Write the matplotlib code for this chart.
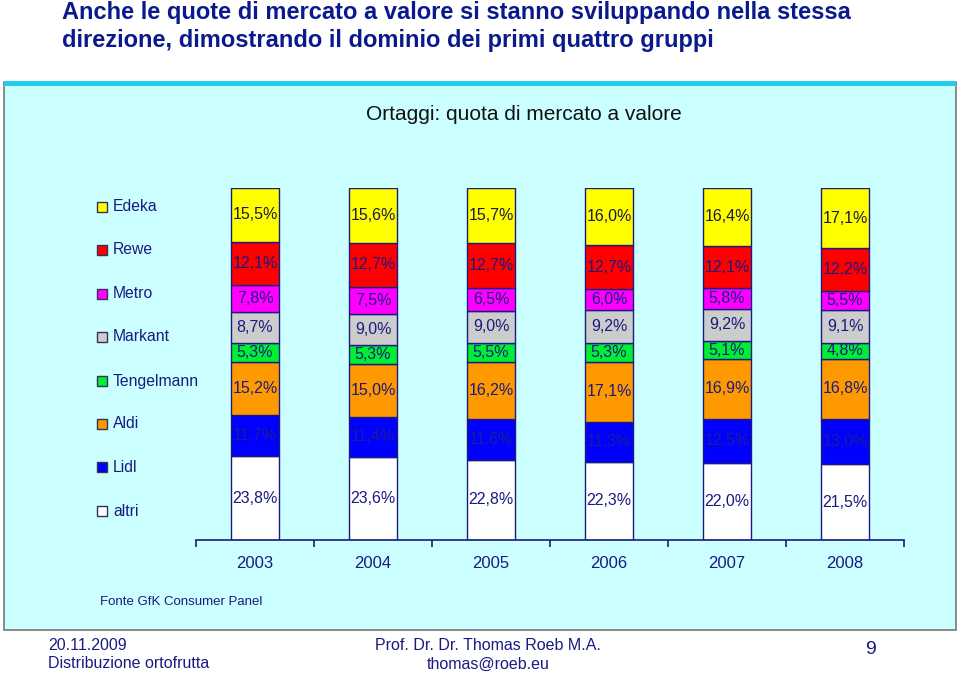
import numpy as np
import matplotlib.pyplot as plt
from matplotlib.patches import Rectangle

plt.rcParams['font.family'] = ['Liberation Sans', 'DejaVu Sans']

# market share by value (%), bottom to top of each bar
years = ['2003', '2004', '2005', '2006', '2007', '2008']
groups = ['altri', 'Lidl', 'Aldi', 'Tengelmann', 'Markant', 'Metro', 'Rewe', 'Edeka']
altri = [23.8, 23.6, 22.8, 22.3, 22.0, 21.5]
lidl = [11.7, 11.4, 11.6, 11.3, 12.5, 13.0]
aldi = [15.2, 15.0, 16.2, 17.1, 16.9, 16.8]
tengelmann = [5.3, 5.3, 5.5, 5.3, 5.1, 4.8]
markant = [8.7, 9.0, 9.0, 9.2, 9.2, 9.1]
metro = [7.8, 7.5, 6.5, 6.0, 5.8, 5.5]
rewe = [12.1, 12.7, 12.7, 12.7, 12.1, 12.2]
edeka = [15.5, 15.6, 15.7, 16.0, 16.4, 17.1]

series = [altri, lidl, aldi, tengelmann, markant, metro, rewe, edeka]
colors = ['#ffffff', '#0000ff', '#ff9900', '#00ee33', '#cccccc', '#ff00ff', '#ff0000', '#ffff00']
navy = '#1a1a80'

fig = plt.figure(figsize=(9.6, 6.76), dpi=100)

# light cyan panel with a bright top edge
fig.patches.append(Rectangle((4 / 960, 1 - 630 / 676), 952 / 960, 548 / 676,
                             transform=fig.transFigure, facecolor='#ccffff',
                             edgecolor='#777777', lw=1.2, zorder=-2))
fig.patches.append(Rectangle((4 / 960, 1 - 86 / 676), 952 / 960, 5 / 676,
                             transform=fig.transFigure, facecolor='#22ccee',
                             edgecolor='none', zorder=-1))

ax = fig.add_axes([196 / 960, 1 - 540 / 676, 708 / 960, 352 / 676])
ax.set_facecolor('none')
ax.set_zorder(1)

x = np.arange(len(years))
bottom = np.zeros(len(years))
for name, vals, col in zip(groups, series, colors):
    ax.bar(x, vals, bottom=bottom, width=0.41, color=col, edgecolor=navy, lw=1, label=name)
    for xi, b, v in zip(x, bottom, vals):
        tcol = '#1e1e90' if name == 'Lidl' else ('#1a1a40' if name == 'Edeka' else navy)
        ax.text(xi, b + v / 2, f'{v:.1f}%'.replace('.', ','), ha='center', va='center',
                fontsize=11.5, color=tcol)
    bottom += np.array(vals)

ax.set_xlim(-0.5, len(years) - 0.5)
ax.set_ylim(0, 100)
ax.set_xticks(np.arange(len(years) + 1) - 0.5)
ax.set_xticklabels([])
ax.tick_params(axis='x', direction='out', length=5, color=navy, width=1.2)
for xi, yr in zip(x, years):
    ax.text(xi, -6.6, yr, ha='center', va='center', fontsize=12, color=navy, clip_on=False)
ax.set_yticks([])
for s in ['top', 'right', 'left']:
    ax.spines[s].set_visible(False)
ax.spines['bottom'].set_color(navy)
ax.spines['bottom'].set_linewidth(1.2)

# legend, top to bottom
leg_y = [207, 250, 294, 337, 381, 424, 467, 511]
for name, col, yy in zip(groups[::-1], colors[::-1], leg_y):
    fig.patches.append(Rectangle((97 / 960, 1 - (yy + 5) / 676), 10 / 960, 10 / 676,
                                 transform=fig.transFigure, facecolor=col,
                                 edgecolor='#333355', lw=1, zorder=3))
    fig.text(113 / 960, 1 - yy / 676, name, fontsize=11.3, color=navy, va='center')

fig.text(524 / 960, 1 - 114 / 676, 'Ortaggi: quota di mercato a valore', ha='center',
         va='center', fontsize=15, color='#111111')
fig.text(100 / 960, 1 - 602 / 676, 'Fonte GfK Consumer Panel', fontsize=9.5,
         color=navy, va='center')

fig.text(62 / 960, 1 - 13 / 676, 'Anche le quote di mercato a valore si stanno sviluppando nella stessa',
         fontsize=17, fontweight='bold', color='#0a1a8c', va='center')
fig.text(62 / 960, 1 - 41 / 676, 'direzione, dimostrando il dominio dei primi quattro gruppi',
         fontsize=17, fontweight='bold', color='#0a1a8c', va='center')

# footer
fig.text(48 / 960, 1 - 645 / 676, '20.11.2009', fontsize=11.5, color=navy, va='center')
fig.text(48 / 960, 1 - 664 / 676, 'Distribuzione ortofrutta', fontsize=11.5, color=navy, va='center')
fig.text(488 / 960, 1 - 645 / 676, 'Prof. Dr. Dr. Thomas Roeb M.A.', fontsize=11.5, color=navy,
         va='center', ha='center')
fig.text(488 / 960, 1 - 664 / 676, 'thomas@roeb.eu', fontsize=11.5, color=navy,
         va='center', ha='center')
fig.text(870 / 960, 1 - 650 / 676, '9', fontsize=14, color=navy, va='center', ha='center')

fig.savefig('out.png', dpi=100)
